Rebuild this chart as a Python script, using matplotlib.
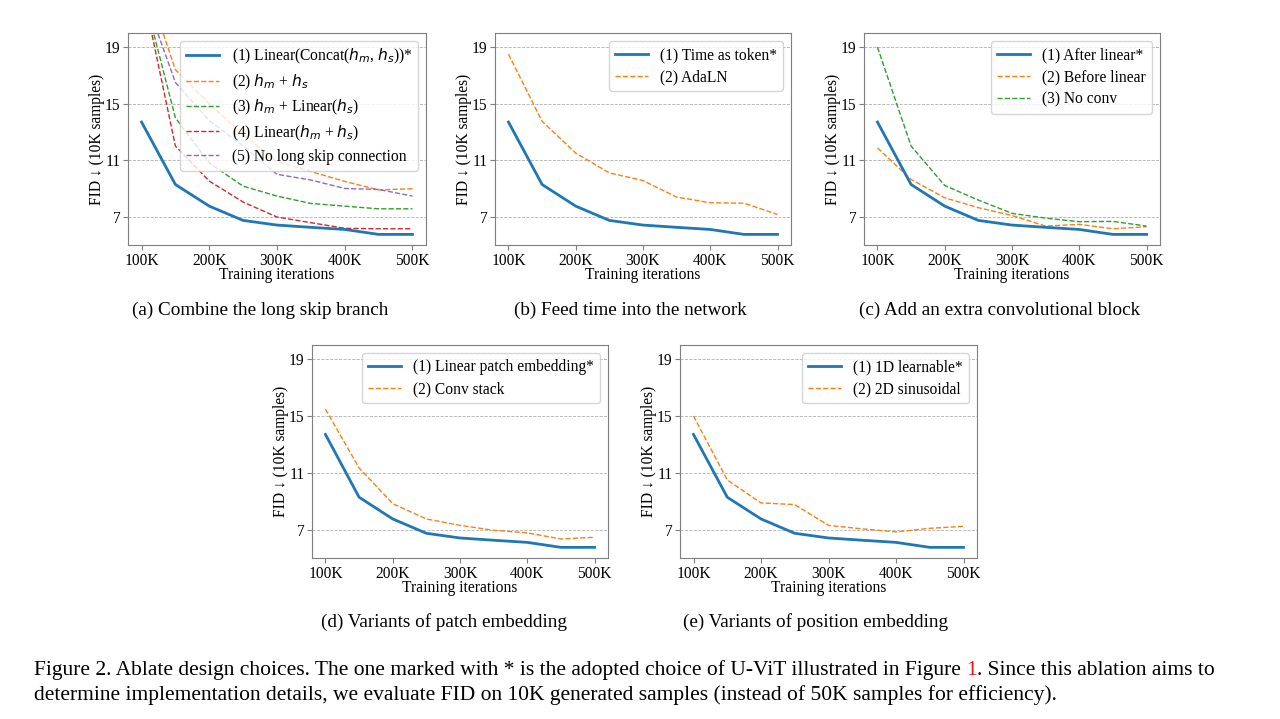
import matplotlib
matplotlib.use("Agg")
import matplotlib.pyplot as plt

plt.rcParams['font.family'] = ['Liberation Serif', 'DejaVu Serif']
plt.rcParams['mathtext.fontset'] = 'dejavusans'

iters = [100, 150, 200, 250, 300, 350, 400, 450, 500]
xtick_vals = [100, 200, 300, 400, 500]
xtick_labels = ['100K', '200K', '300K', '400K', '500K']
ytick_vals = [7, 11, 15, 19]

adopted = [13.7, 9.28, 7.75, 6.74, 6.41, 6.25, 6.1, 5.75, 5.75]

# (a) long skip branch
a_sum = [24.5, 17.4, 15.0, 12.8, 10.9, 10.2, 9.5, 8.9, 8.98]
a_sum_lin = [23.3, 14.0, 10.8, 9.16, 8.46, 7.94, 7.75, 7.56, 7.56]
a_lin_sum = [23.4, 12.0, 9.52, 8.04, 6.98, 6.58, 6.18, 6.15, 6.15]
a_noskip = [23.2, 16.5, 13.8, 12.0, 10.0, 9.6, 9.0, 8.93, 8.46]
# (b) time
b_adaln = [18.5, 13.75, 11.5, 10.1, 9.56, 8.39, 7.99, 7.96, 7.16]
# (c) conv block
c_before = [11.87, 9.64, 8.34, 7.64, 7.09, 6.34, 6.46, 6.15, 6.29]
c_noconv = [19.0, 12.0, 9.21, 8.18, 7.24, 6.9, 6.65, 6.67, 6.34]
# (d) patch embedding
d_conv = [15.48, 11.34, 8.83, 7.75, 7.3, 6.95, 6.77, 6.34, 6.46]
# (e) position embedding
e_sin = [15.0, 10.5, 8.88, 8.76, 7.3, 7.05, 6.84, 7.09, 7.23]

labels_a = [r'(1) Linear(Concat($h_m$, $h_s$))*', r'(2) $h_m$ + $h_s$',
            r'(3) $h_m$ + Linear($h_s$)', r'(4) Linear($h_m$ + $h_s$)',
            '(5) No long skip connection']
labels_b = ['(1) Time as token*', '(2) AdaLN']
labels_c = ['(1) After linear*', '(2) Before linear', '(3) No conv']
labels_d = ['(1) Linear patch embedding*', '(2) Conv stack']
labels_e = ['(1) 1D learnable*', '(2) 2D sinusoidal']

subcaps = ['(a) Combine the long skip branch', '(b) Feed time into the network',
           '(c) Add an extra convolutional block', '(d) Variants of patch embedding',
           '(e) Variants of position embedding']

W, H = 1280, 719
fig = plt.figure(figsize=(12.8, 7.19), dpi=100)

def px_axes(l, t, r, b):
    return fig.add_axes([l / W, 1 - b / H, (r - l) / W, (b - t) / H])

blue, orange, green, red, purple = '#1f77b4', '#ff7f0e', '#2ca02c', '#d62728', '#9467bd'
FS = 11.2

def setup(ax, series, labels, colors):
    for i, (s, lab, c) in enumerate(zip(series, labels, colors)):
        if i == 0:
            ax.plot(iters, s, color=c, lw=2.0, label=lab, zorder=3)
        else:
            ax.plot(iters, s, color=c, lw=1.0, ls='--', label=lab, zorder=2)
    ax.set_ylim(5, 20)
    ax.set_xlim(80, 520)
    ax.set_xticks(xtick_vals)
    ax.set_xticklabels(xtick_labels, fontsize=FS)
    ax.set_yticks(ytick_vals)
    ax.set_yticklabels([str(v) for v in ytick_vals], fontsize=FS)
    ax.grid(axis='y', ls='--', color='#b0b0b0', lw=0.6)
    ax.set_axisbelow(True)
    for sp in ax.spines.values():
        sp.set_color('#7f7f7f')
    ax.tick_params(color='#7f7f7f', pad=2)
    ax.set_xlabel('Training iterations', fontsize=FS, labelpad=-1)
    ax.set_ylabel('FID \u2193 (10K samples)', fontsize=FS, labelpad=0)
    ax.legend(loc='upper right', fontsize=FS, handlelength=2.1, labelspacing=0.4)

axa = px_axes(128, 33, 426, 245)
setup(axa, [adopted, a_sum, a_sum_lin, a_lin_sum, a_noskip], labels_a,
      [blue, orange, green, red, purple])
axb = px_axes(495, 33, 791, 245)
setup(axb, [adopted, b_adaln], labels_b, [blue, orange])
axc = px_axes(864, 33, 1160, 245)
setup(axc, [adopted, c_before, c_noconv], labels_c, [blue, orange, green])
axd = px_axes(312, 345, 608, 558)
setup(axd, [adopted, d_conv], labels_d, [blue, orange])
axe = px_axes(680, 345, 977, 558)
setup(axe, [adopted, e_sin], labels_e, [blue, orange])

SFS = 13.8
for (cx, cy), txt in zip([(260, 310), (630, 310), (1000, 310), (444, 622), (816, 622)], subcaps):
    fig.text(cx / W, 1 - cy / H, txt, ha='center', va='center', fontsize=SFS)

CFS = 15.5
renderer = fig.canvas.get_renderer()
y1 = 1 - 675 / H
t1 = fig.text(34 / W, y1, 'Figure 2. Ablate design choices. The one marked with * is the adopted choice of U-ViT illustrated in Figure ',
              ha='left', va='baseline', fontsize=CFS)
w1 = t1.get_window_extent(renderer).width
t2 = fig.text((34 + w1) / W, y1, '1', ha='left', va='baseline', fontsize=CFS, color='#e8141c')
w2 = t2.get_window_extent(renderer).width
fig.text((34 + w1 + w2) / W, y1, '. Since this ablation aims to', ha='left', va='baseline', fontsize=CFS)
fig.text(34 / W, 1 - 700 / H, 'determine implementation details, we evaluate FID on 10K generated samples (instead of 50K samples for efficiency).',
         ha='left', va='baseline', fontsize=CFS)

fig.savefig('out.png', dpi=100)
